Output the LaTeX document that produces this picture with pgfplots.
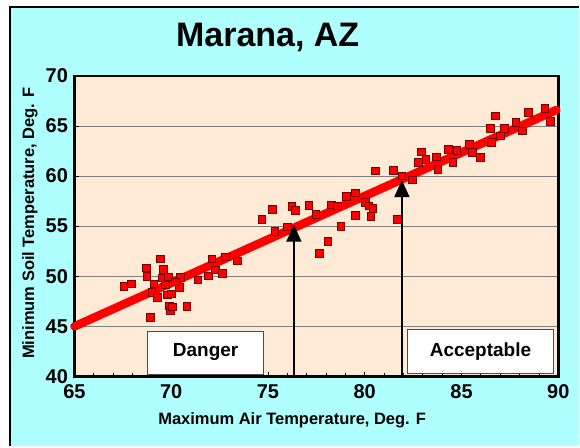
\documentclass[border=0pt]{standalone}
\usepackage{fontspec}
\setmainfont{Liberation Sans}
\usepackage{pgfplots}
\pgfplotsset{compat=1.18}
\usetikzlibrary{arrows.meta}
\definecolor{bgcyan}{RGB}{175,255,255}
\definecolor{peach}{RGB}{255,234,214}
\definecolor{mkedge}{RGB}{120,0,0}
\begin{document}
\begin{tikzpicture}[x=1pt,y=1pt]
\fill[white] (0,0) rectangle (580,447);
\fill[bgcyan] (10,0) rectangle (580,440);
\draw[black,line width=1.5pt] (10,0) -- (10,440) -- (580,440);
\node[font=\fontsize{34}{40}\selectfont\bfseries, anchor=base] at (268,400) {Marana, AZ};
\begin{axis}[at={(74.5pt,70pt)}, anchor=south west, scale only axis,
  width=484.5pt, height=301pt,
  xmin=65, xmax=90, ymin=40, ymax=70,
  xtick={65,70,...,90}, ytick={40,45,...,70}, minor x tick num=4,
  axis background/.style={fill=peach},
  axis line style={line width=2.5pt},
  ymajorgrids, major grid style={gray, line width=0.8pt},
  tick label style={font=\fontsize{20}{24}\selectfont\bfseries},
  /pgf/number format/assume math mode=true,
  xtick pos=bottom, ytick pos=left,
  xtick align=inside, ytick align=inside,
  tick style={black, line width=0.8pt},
  major tick length=5pt, minor tick length=4pt,
  yticklabel style={xshift=-3pt},
  xticklabel style={yshift=-5pt},
  clip=false]
\addplot[only marks, mark=square*, mark size=3.8pt,
  mark options={fill=red, draw=mkedge, line width=0.5pt}] coordinates {
(67.54,49.00) (67.94,49.25) (68.70,50.84) (68.73,50.00) (68.93,45.91)
(69.00,48.40) (69.09,49.25) (69.29,47.90) (69.45,51.74) (69.55,49.86)
(69.60,50.70) (69.81,48.15) (69.86,49.97) (69.90,47.08) (69.95,46.58)
(70.00,48.25) (70.07,46.98) (70.41,48.90) (70.81,47.01) (71.38,49.64)
(71.92,50.07) (72.10,51.74) (72.27,50.64) (72.64,50.30) (72.78,51.96)
(73.42,51.56) (70.48,49.90) (69.70,49.16) (70.20,49.47)
(74.67,55.72) (75.22,56.69) (75.36,54.50) (76.22,56.99) (76.40,56.62)
(76.00,54.96) (77.11,57.12) (77.46,56.22) (77.65,52.30) (78.08,53.49)
(78.28,57.15) (78.57,57.05) (78.76,54.98) (79.04,58.01) (79.52,58.32)
(79.52,56.08) (80.03,57.38) (80.20,57.05) (80.41,56.78) (80.31,56.02)
(80.55,60.53) (81.46,60.60) (81.67,55.72)
(81.92,60.05) (82.47,59.64) (82.78,61.37) (82.92,62.44) (83.16,61.70)
(83.69,61.94) (83.78,60.71) (84.33,62.70) (84.54,61.37) (84.76,62.60)
(85.40,63.20) (85.57,62.36) (85.96,61.87) (86.48,64.75) (86.53,63.36)
(86.74,66.03) (87.22,64.75) (87.80,65.35) (88.14,64.53) (88.45,66.35)
(89.31,66.79) (89.59,65.46) (87.00,64.01)
};
\addplot[red, line width=8.5pt, line cap=round] coordinates {(65,45) (89.9,66.6)};
\addplot[black, line width=1.8pt, -{Triangle[length=17pt,width=15pt]}] coordinates {(76.34,40) (76.34,55.15)};
\addplot[black, line width=1.8pt, -{Triangle[length=17pt,width=15pt]}] coordinates {(81.92,40) (81.92,59.6)};
\draw[fill=white, draw=gray!60!black, line width=0.8pt] (axis cs:68.76,40.2) rectangle (axis cs:74.79,44.55);
\node[font=\fontsize{19}{22}\selectfont\bfseries] at (axis cs:71.78,42.4) {Danger};
\draw[fill=white, draw=gray!60!black, line width=0.8pt] (axis cs:82.22,40.3) rectangle (axis cs:89.74,44.7);
\node[font=\fontsize{19}{22}\selectfont\bfseries] at (axis cs:85.98,42.5) {Acceptable};
\end{axis}
\node[font=\fontsize{16.5}{20}\selectfont\bfseries, anchor=base] at (292.5,22) {Maximum Air Temperature, Deg. F};
\node[font=\fontsize{16.5}{20}\selectfont\bfseries, rotate=90] at (30,223.5) {Minimum Soil Temperature, Deg. F};
\end{tikzpicture}
\end{document}
